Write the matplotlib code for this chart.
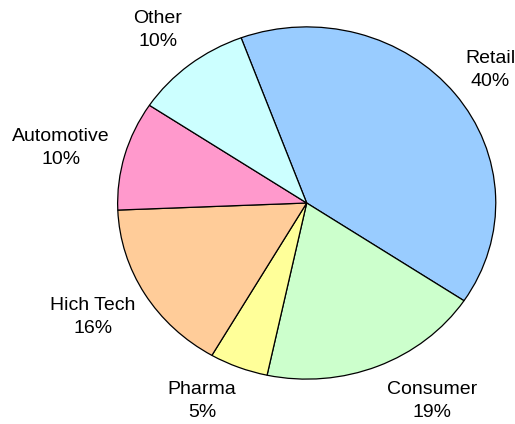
import matplotlib
matplotlib.use("Agg")
import matplotlib.pyplot as plt

# Share of business by sector
sectors = ["Retail", "Consumer", "Pharma", "Hich Tech", "Automotive", "Other"]
shares = [40, 19, 5, 16, 10, 10]
colors = ["#99CCFF", "#CCFFCC", "#FFFF99", "#FFCC99", "#FF99CC", "#CCFFFF"]

# label centres in pixel coordinates (x from left, y from top)
label_pos = {
    "Retail": (490, 70),
    "Consumer": (432, 401),
    "Pharma": (202, 401),
    "Hich Tech": (93, 317),
    "Automotive": (61, 148),
    "Other": (158, 30),
}

W, H = 515, 424
DPI = 100
fig = plt.figure(figsize=(W / DPI, H / DPI), dpi=DPI)
fig.patch.set_facecolor("white")

# pie occupies an ellipse: centre (306.7, 203) px, radii 190 x 177 px
cx, cy, rx, ry = 306.7, 203.0, 190.0, 177.0
ax = fig.add_axes([(cx - rx) / W, (H - cy - ry) / H, 2 * rx / W, 2 * ry / H])
ax.pie(shares, colors=colors, startangle=110.3, counterclock=False,
       wedgeprops=dict(edgecolor="black", linewidth=0.9),
       radius=1.0)
ax.set_aspect("auto")
ax.set_xlim(-1.005, 1.005)
ax.set_ylim(-1.005, 1.005)
ax.axis("off")

for name, val in zip(sectors, shares):
    px, py = label_pos[name]
    fig.text(px / W, 1 - py / H, f"{name}\n{val}%", ha="center", va="center",
             fontsize=14, family=["Liberation Sans", "DejaVu Sans"],
             linespacing=1.5, color="black")

fig.savefig("out.png", dpi=DPI, facecolor="white")
